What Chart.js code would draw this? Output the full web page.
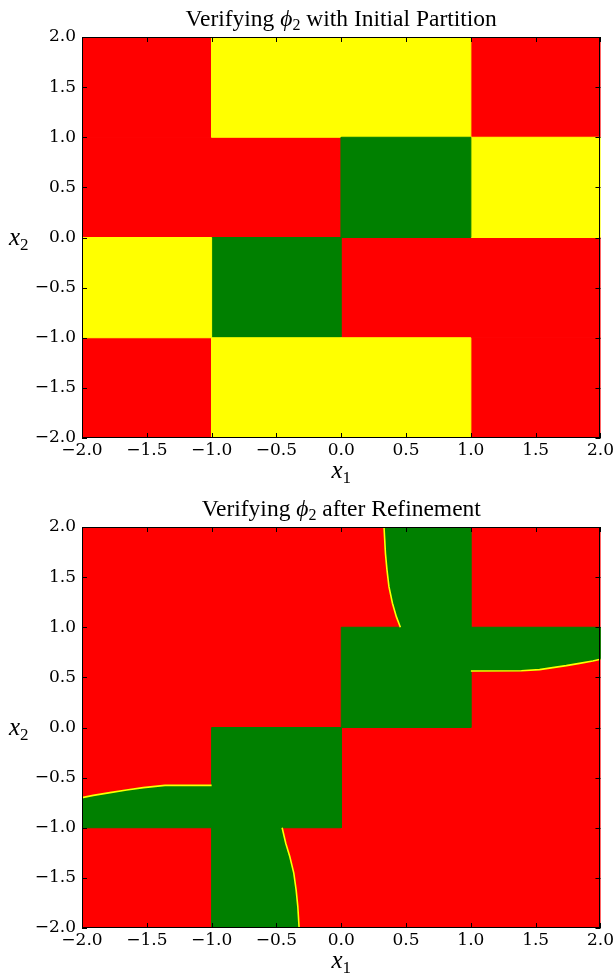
<!DOCTYPE html>
<html>
<head>
<meta charset="utf-8">
<script src="https://cdn.jsdelivr.net/npm/chart.js@4.4.1/dist/chart.umd.min.js"></script>
<style>
  html, body { margin: 0; padding: 0; background: #ffffff; }
  body { width: 616px; height: 975px; position: relative; overflow: hidden; }
  .panel { position: absolute; left: 0; width: 616px; }
  #panelTop { top: 0; height: 490px; }
  #panelBottom { top: 490px; height: 485px; }
</style>
</head>
<body>
<div class="panel" id="panelTop"><canvas id="initialChart" width="616" height="490"></canvas></div>
<div class="panel" id="panelBottom"><canvas id="refinedChart" width="616" height="485"></canvas></div>
<script>
// ---- data ----------------------------------------------------------------
// Grid edges of the initial partition (same on both axes)
const x1Edges = [-2, -1, 0, 1, 2];
const x2Edges = [-2, -1, 0, 1, 2];

// Verification status of each initial cell, one array per x2 row (bottom to top)
const rowMinus2 = ['unsafe', 'unknown', 'unknown', 'unsafe'];   // x2 in [-2,-1]
const rowMinus1 = ['unknown', 'safe', 'unsafe', 'unsafe'];      // x2 in [-1, 0]
const rowZero   = ['unsafe', 'unsafe', 'safe', 'unknown'];      // x2 in [ 0, 1]
const rowPlus1  = ['unsafe', 'unknown', 'unknown', 'unsafe'];   // x2 in [ 1, 2]

// Boundaries of the safe set after refinement
const upperCurveX1 = [0.330, 0.341, 0.353, 0.368, 0.395, 0.425, 0.456];
const upperCurveX2 = [2.000, 1.737, 1.570, 1.405, 1.240, 1.106, 1.000];
const rightCurveX1 = [1.000, 1.390, 1.530, 1.632, 1.736, 1.838, 1.941, 2.000];
const rightCurveX2 = [0.564, 0.566, 0.577, 0.597, 0.617, 0.640, 0.663, 0.680];
const lowerCurveX1 = [-0.456, -0.428, -0.397, -0.366, -0.348, -0.335, -0.325];
const lowerCurveX2 = [-1.000, -1.154, -1.287, -1.453, -1.620, -1.786, -2.000];
const leftCurveX1  = [-1.000, -1.360, -1.527, -1.656, -1.784, -1.913, -2.000];
const leftCurveX2  = [-0.577, -0.577, -0.600, -0.623, -0.650, -0.677, -0.700];

// Corner vertices of the two refined safe regions (x1, x2)
const safeUpperCornersX1 = [1, 1, 2];
const safeUpperCornersX2 = [2, 1, 1];
const safeUpperInnerX1 = [1, 0, 0];
const safeUpperInnerX2 = [0, 0, 1];
const safeLowerCornersX1 = [-1, -1, -2];
const safeLowerCornersX2 = [-2, -1, -1];
const safeLowerInnerX1 = [-1, 0, 0];
const safeLowerInnerX2 = [0, 0, -1];

// Axis ticks
const tickValues = [-2.0, -1.5, -1.0, -0.5, 0.0, 0.5, 1.0, 1.5, 2.0];

const statusColors = { safe: '#008000', unknown: '#ffff00', unsafe: '#ff0000' };

// ---- helpers --------------------------------------------------------------
const zip = (xs, ys) => xs.map((x, i) => ({ x, y: ys[i] }));

function cellDataset(i, j, status) {
  const x0 = x1Edges[i], xa = x1Edges[i + 1];
  const y0 = x2Edges[j], ya = x2Edges[j + 1];
  const col = statusColors[status];
  return {
    data: [{ x: x0, y: y0 }, { x: xa, y: y0 }, { x: xa, y: ya }, { x: x0, y: ya }, { x: x0, y: y0 }],
    fill: 'shape', backgroundColor: col, borderColor: col, borderWidth: 1,
    pointRadius: 0, tension: 0, order: status === 'unsafe' ? 2 : 1
  };
}

function polygonDataset(points, color, order) {
  return {
    data: points.concat([points[0]]),
    fill: 'shape', backgroundColor: color, borderColor: color, borderWidth: 1,
    pointRadius: 0, tension: 0, order
  };
}

function curveDataset(xs, ys) {
  return {
    data: zip(xs, ys), fill: false, borderColor: statusColors.unknown,
    borderWidth: 1.6, pointRadius: 0, tension: 0, order: 0
  };
}

const fmtTick = v => (v < 0 ? '\u2212' : '') + Math.abs(v).toFixed(1);

// Frame around the plotting area with inward ticks on all four sides
const frameTicks = {
  id: 'frameTicks',
  afterDraw(chart) {
    const { ctx, chartArea: a, scales: { x, y } } = chart;
    const L = 5;
    const s = v => Math.round(v) + 0.5;
    ctx.save();
    ctx.strokeStyle = '#000000';
    ctx.lineWidth = 1;
    ctx.beginPath();
    x.ticks.forEach(t => {
      const p = s(x.getPixelForValue(t.value));
      ctx.moveTo(p, a.bottom); ctx.lineTo(p, a.bottom - L);
      ctx.moveTo(p, a.top); ctx.lineTo(p, a.top + L);
    });
    y.ticks.forEach(t => {
      const p = s(y.getPixelForValue(t.value));
      ctx.moveTo(a.left, p); ctx.lineTo(a.left + L, p);
      ctx.moveTo(a.right, p); ctx.lineTo(a.right - L, p);
    });
    ctx.stroke();
    ctx.strokeRect(s(a.left), s(a.top), Math.round(a.right - a.left) - 1, Math.round(a.bottom - a.top) - 1);
    ctx.restore();
  }
};

// Title and axis labels with italic symbols and subscripts
function drawRuns(ctx, runs, x, y, align) {
  let total = 0;
  runs.forEach(r => { ctx.font = r.font; r.w = ctx.measureText(r.text).width; total += r.w; });
  let cx = align === 'center' ? x - total / 2 : x;
  runs.forEach(r => {
    ctx.font = r.font;
    ctx.fillText(r.text, cx, y + (r.dy || 0));
    cx += r.w;
  });
}

const SERIF = '"Liberation Serif", "DejaVu Serif", serif';
const mathLabels = {
  id: 'mathLabels',
  afterDraw(chart, args, opts) {
    const { ctx, chartArea: a } = chart;
    const cx = (a.left + a.right) / 2;
    ctx.save();
    ctx.fillStyle = '#000000';
    ctx.textBaseline = 'alphabetic';
    ctx.textAlign = 'left';
    drawRuns(ctx, [
      { text: 'Verifying ', font: '23.5px ' + SERIF },
      { text: '\u03D5', font: 'italic 23.5px ' + SERIF },
      { text: '2', font: '16px ' + SERIF, dy: 4 },
      { text: ' ' + opts.titleTail, font: '23.5px ' + SERIF }
    ], cx, 26, 'center');
    drawRuns(ctx, [
      { text: 'x', font: 'italic 25px ' + SERIF },
      { text: '1', font: '17px ' + SERIF, dy: 5 }
    ], cx, 478, 'center');
    drawRuns(ctx, [
      { text: 'x', font: 'italic 25px ' + SERIF },
      { text: '2', font: '17px ' + SERIF, dy: 5 }
    ], 9, 245, 'left');
    ctx.restore();
  }
};

function makeOptions(canvasHeight, titleTail) {
  const tickFont = { family: '"DejaVu Serif", serif', size: 17 };
  return {
    responsive: false,
    animation: false,
    layout: { padding: { left: 0, right: 15, top: 37, bottom: 0 } },
    plugins: {
      legend: { display: false },
      tooltip: { enabled: false },
      title: { display: false },
      mathLabels: { titleTail }
    },
    scales: {
      x: {
        type: 'linear', min: -2, max: 2,
        grid: { display: false, drawTicks: false },
        border: { display: false },
        afterBuildTicks: s => { s.ticks = tickValues.map(v => ({ value: v })); },
        afterFit: s => { s.height = canvasHeight - 438; },
        ticks: { callback: fmtTick, font: tickFont, color: '#000000', padding: 2, maxRotation: 0, autoSkip: false }
      },
      y: {
        type: 'linear', min: -2, max: 2,
        grid: { display: false, drawTicks: false },
        border: { display: false },
        afterBuildTicks: s => { s.ticks = tickValues.map(v => ({ value: v })); },
        afterFit: s => { s.width = 82; },
        ticks: { callback: fmtTick, font: tickFont, color: '#000000', padding: 6, autoSkip: false }
      }
    }
  };
}

// ---- chart 1: initial partition --------------------------------------------
const statusRows = [rowMinus2, rowMinus1, rowZero, rowPlus1];
const initialDatasets = [];
statusRows.forEach((row, j) => row.forEach((status, i) => initialDatasets.push(cellDataset(i, j, status))));

new Chart(document.getElementById('initialChart'), {
  type: 'line',
  data: { datasets: initialDatasets },
  options: makeOptions(490, 'with Initial Partition'),
  plugins: [frameTicks, mathLabels]
});

// ---- chart 2: after refinement -------------------------------------------
const domain = [{ x: -2, y: -2 }, { x: 2, y: -2 }, { x: 2, y: 2 }, { x: -2, y: 2 }];

const safeUpper = [].concat(
  [{ x: upperCurveX1[0], y: upperCurveX2[0] }],
  zip(safeUpperCornersX1, safeUpperCornersX2),
  zip(rightCurveX1, rightCurveX2).reverse(),
  zip(safeUpperInnerX1, safeUpperInnerX2),
  zip(upperCurveX1, upperCurveX2).reverse()
);
const safeLower = [].concat(
  [{ x: lowerCurveX1[lowerCurveX1.length - 1], y: lowerCurveX2[lowerCurveX2.length - 1] }],
  zip(safeLowerCornersX1, safeLowerCornersX2),
  zip(leftCurveX1, leftCurveX2).reverse(),
  zip(safeLowerInnerX1, safeLowerInnerX2),
  zip(lowerCurveX1, lowerCurveX2)
);

new Chart(document.getElementById('refinedChart'), {
  type: 'line',
  data: {
    datasets: [
      curveDataset(upperCurveX1, upperCurveX2),
      curveDataset(rightCurveX1, rightCurveX2),
      curveDataset(lowerCurveX1, lowerCurveX2),
      curveDataset(leftCurveX1, leftCurveX2),
      polygonDataset(safeUpper, statusColors.safe, 1),
      polygonDataset(safeLower, statusColors.safe, 1),
      polygonDataset(domain, statusColors.unsafe, 2)
    ]
  },
  options: makeOptions(485, 'after Refinement'),
  plugins: [frameTicks, mathLabels]
});
</script>
</body>
</html>
